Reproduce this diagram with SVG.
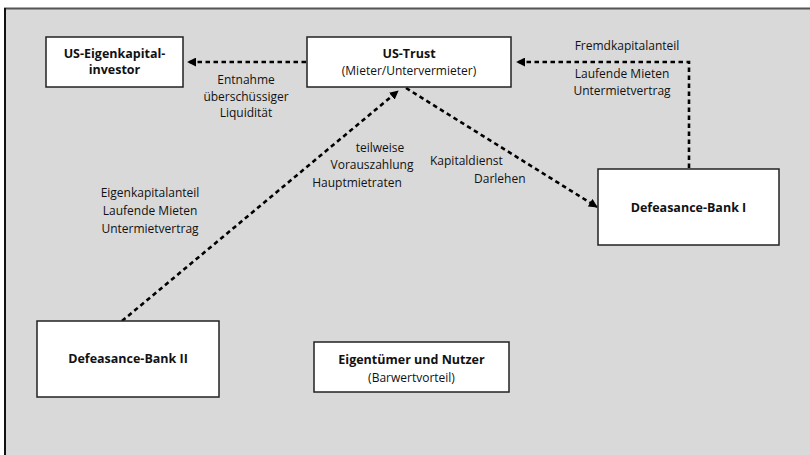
<svg xmlns="http://www.w3.org/2000/svg" width="810" height="455" viewBox="0 0 810 455">
<style>
.box{fill:#ffffff;stroke:#222;stroke-width:1.5}
.t{font-family:"Open Sans","Liberation Sans",sans-serif;font-size:12px;fill:#111;text-anchor:middle}
.b{font-weight:bold;font-size:12.5px}
.l{font-family:"Open Sans","Liberation Sans",sans-serif;font-size:12px;fill:#111}
.c{fill:none;stroke:#000;stroke-width:2.6;stroke-dasharray:4.5 3.5}
</style>
<defs>
<marker id="ah" viewBox="0 0 10 10" refX="9" refY="5" markerWidth="9" markerHeight="9" markerUnits="userSpaceOnUse" orient="auto">
<path d="M0,0 L10,5 L0,10 z" fill="#000"/>
</marker>
</defs>
<rect x="0" y="0" width="810" height="455" fill="#ffffff"/>
<rect x="5" y="8.5" width="820" height="470" fill="#d9d9d9" stroke="#555" stroke-width="2"/>
<line x1="5" y1="8" x2="5" y2="455" stroke="#111" stroke-width="2"/>

<g id="connectors">
<line class="c" x1="306" y1="62" x2="188" y2="62" marker-end="url(#ah)"/>
<polyline class="c" points="689,168 689,62 517,62" marker-end="url(#ah)"/>
<line class="c" x1="122" y1="321" x2="398" y2="91" marker-end="url(#ah)"/>
<line class="c" x1="406" y1="88" x2="597" y2="207" marker-end="url(#ah)"/>
</g>

<g id="n-investor">
<rect class="box" x="46" y="37" width="137" height="50"/>
<text class="t b" x="114.5" y="58">US-Eigenkapital-</text>
<text class="t b" x="114.5" y="74">investor</text>
</g>
<g id="n-trust">
<rect class="box" x="307" y="37" width="204" height="50"/>
<text class="t b" x="409" y="58">US-Trust</text>
<text class="t" x="409" y="75">(Mieter/Untervermieter)</text>
</g>
<g id="n-bank1">
<rect class="box" x="598" y="169" width="181" height="76"/>
<text class="t b" x="688.5" y="212">Defeasance-Bank I</text>
</g>
<g id="n-bank2">
<rect class="box" x="37" y="321" width="182" height="76"/>
<text class="t b" x="128" y="363">Defeasance-Bank II</text>
</g>
<g id="n-owner">
<rect class="box" x="314" y="342" width="195" height="50"/>
<text class="t b" x="411.5" y="364">Eigentümer und  Nutzer</text>
<text class="t" x="411.5" y="382">(Barwertvorteil)</text>
</g>

<g id="labels">
<text class="t" x="246" y="84">Entnahme</text>
<text class="t" x="246" y="100.5">überschüssiger</text>
<text class="t" x="246" y="117">Liquidität</text>
<text class="t" x="627" y="50">Fremdkapitalanteil</text>
<text class="t" x="622" y="78">Laufende Mieten</text>
<text class="t" x="622" y="95">Untermietvertrag</text>
<text class="t" x="380" y="152">teilweise</text>
<text class="t" x="372" y="169">Vorauszahlung</text>
<text class="t" x="357" y="187">Hauptmietraten</text>
<text class="l" x="430" y="165">Kapitaldienst</text>
<text class="l" x="474" y="183">Darlehen</text>
<text class="t" x="150" y="197">Eigenkapitalanteil</text>
<text class="t" x="150" y="215">Laufende Mieten</text>
<text class="t" x="150" y="233">Untermietvertrag</text>
</g>
</svg>
